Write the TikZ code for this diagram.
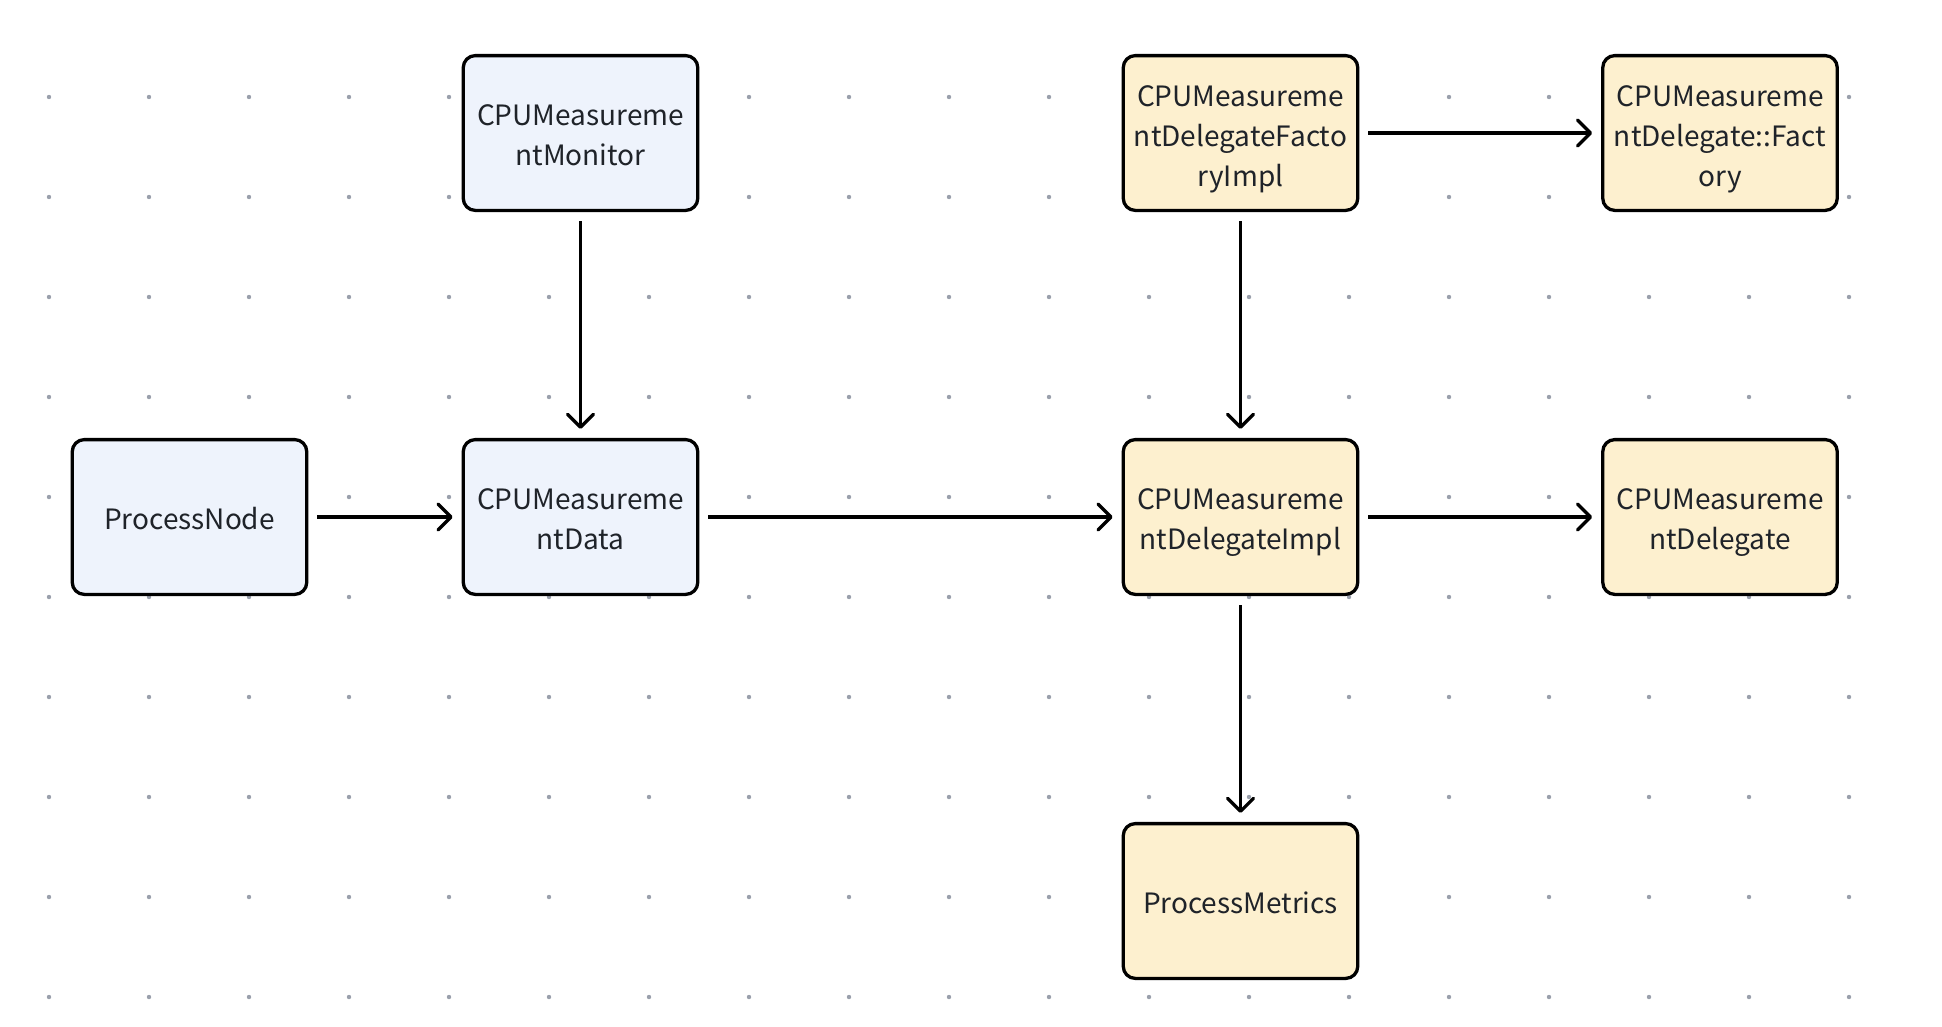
\documentclass[tikz,border=0pt]{standalone}
\usepackage{fontspec}
\setmainfont{Noto Sans CJK SC}
\usetikzlibrary{arrows.meta}
\definecolor{boxblue}{HTML}{EEF3FC}
\definecolor{boxyellow}{HTML}{FDF0CF}
\definecolor{txt}{HTML}{1F2329}
\definecolor{dotc}{HTML}{9AA0AC}
\newcommand\mtext[2][4pt]{\raisebox{-#1}[\height][\depth]{\begin{tabular}{@{}c@{}}#2\end{tabular}}}
\tikzset{
  box/.style={draw=black, line width=3.3pt, rounded corners=12pt,
    minimum width=234.5pt, minimum height=154.8pt, inner sep=0pt,
    text=txt, font=\fontsize{28pt}{40pt}\selectfont},
  bluebox/.style={box, fill=boxblue},
  yelbox/.style={box, fill=boxyellow},
  conn/.style={draw=black, line width=3.3pt,
    -{Straight Barb[length=13pt,width=26pt,round]},
    shorten <=9pt, shorten >=9pt}
}
\begin{document}
\begin{tikzpicture}[x=1pt,y=-1pt]
\useasboundingbox (0,0) rectangle (1942,1026);
\fill[white] (0,0) rectangle (1942,1026);
% dot grid
\foreach \i in {0,...,18}{
  \foreach \j in {0,...,9}{
    \fill[dotc] (49+100*\i,97+100*\j) circle (2.2pt);
  }
}
% nodes
\node[bluebox] (mon) at (580.5,133) {\mtext{CPUMeasureme\\ntMonitor}};
\node[bluebox] (pn) at (189.5,517) {\mtext{ProcessNode}};
\node[bluebox] (data) at (580.5,517) {\mtext{CPUMeasureme\\ntData}};
\node[yelbox] (fimpl) at (1240.5,133) {\mtext[5.5pt]{CPUMeasureme\\ntDelegateFacto\\ryImpl}};
\node[yelbox] (fact) at (1720,133) {\mtext[5.5pt]{CPUMeasureme\\ntDelegate::Fact\\ory}};
\node[yelbox] (dimpl) at (1240.5,517) {\mtext{CPUMeasureme\\ntDelegateImpl}};
\node[yelbox] (del) at (1720,517) {\mtext{CPUMeasureme\\ntDelegate}};
\node[yelbox] (pm) at (1240.5,901) {\mtext{ProcessMetrics}};
% connectors
\draw[conn] (mon) -- (data);
\draw[conn] (pn) -- (data);
\draw[conn] (data) -- (dimpl);
\draw[conn] (fimpl) -- (fact);
\draw[conn] (fimpl) -- (dimpl);
\draw[conn] (dimpl) -- (del);
\draw[conn] (dimpl) -- (pm);
\end{tikzpicture}
\end{document}
